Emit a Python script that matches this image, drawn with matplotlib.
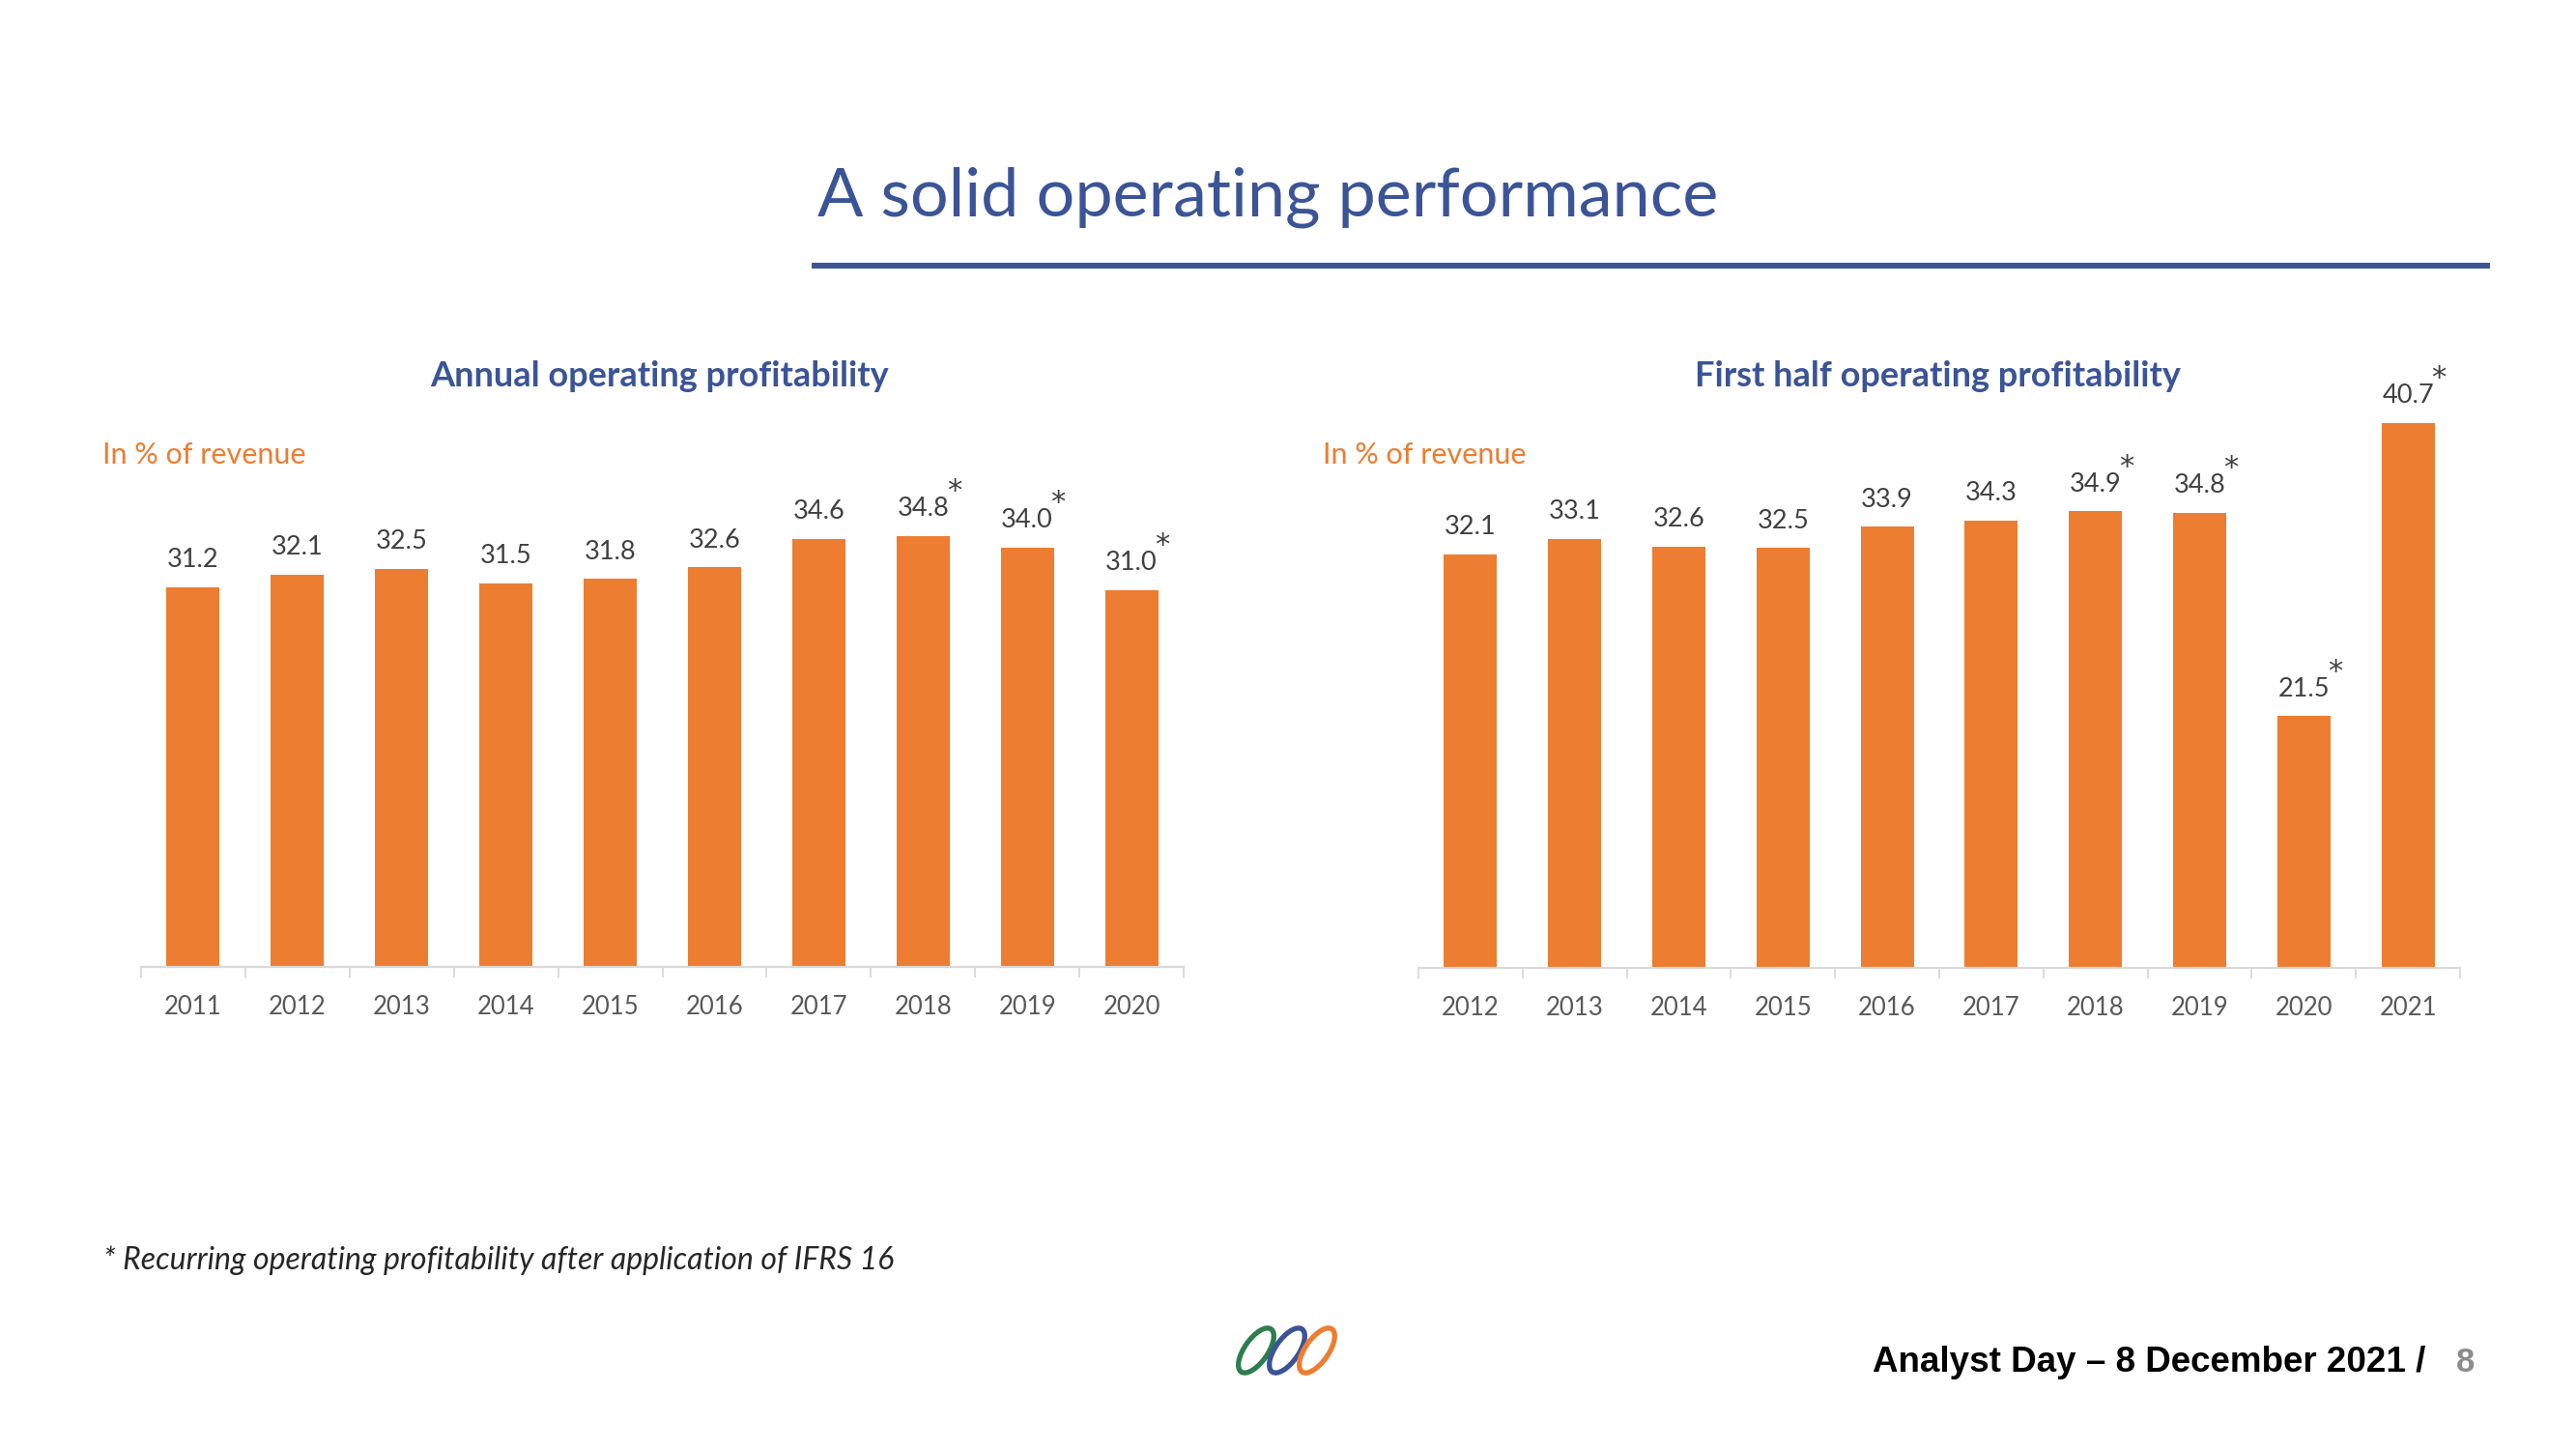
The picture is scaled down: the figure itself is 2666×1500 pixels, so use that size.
import matplotlib
matplotlib.use("Agg")
import matplotlib.pyplot as plt
from matplotlib.patches import Ellipse

# ---------------- data ----------------
annual_years = ["2011", "2012", "2013", "2014", "2015", "2016", "2017", "2018", "2019", "2020"]
annual_values = [31.2, 32.1, 32.5, 31.5, 31.8, 32.6, 34.6, 34.8, 34.0, 31.0]
annual_star = [False, False, False, False, False, False, False, True, True, True]

half_years = ["2012", "2013", "2014", "2015", "2016", "2017", "2018", "2019", "2020", "2021"]
half_values = [32.1, 33.1, 32.6, 32.5, 33.9, 34.3, 34.9, 34.8, 21.5, 40.7]
half_star = [False, False, False, False, False, False, True, True, True, True]

title = "A solid operating performance"
left_title = "Annual operating profitability"
right_title = "First half operating profitability"
unit_label = "In % of revenue"
footnote = "* Recurring operating profitability after application of IFRS 16"
footer = "Analyst Day \u2013 8 December 2021 /"
page = "8"

# ---------------- style ----------------
W, H = 2666, 1500
DPI = 100
ORANGE = "#ED7D31"
BLUE = "#3B5497"
LABEL = "#404040"
TICK = "#595959"
AXIS = "#D9D9D9"
FONT = "Lato"

fig = plt.figure(figsize=(W / DPI, H / DPI), dpi=DPI)
fig.patch.set_facecolor("white")


def fx(px):
    return px / W


def fy(py):
    return 1 - py / H


def draw_chart(rect_px, cats, vals, stars, ylim):
    x0, y_top, x1, y_bot = rect_px
    ax = fig.add_axes([fx(x0), fy(y_bot), fx(x1 - x0), (y_bot - y_top) / H])
    pos = list(range(len(cats)))
    ax.bar(pos, vals, width=0.51, color=ORANGE, zorder=2)
    ax.set_xlim(-0.5, len(cats) - 0.5)
    ax.set_ylim(*ylim)
    for s in ["top", "right", "left"]:
        ax.spines[s].set_visible(False)
    ax.spines["bottom"].set_color(AXIS)
    ax.spines["bottom"].set_linewidth(1.6)
    ax.set_yticks([])
    ax.set_xticks(pos)
    ax.set_xticklabels(cats, fontsize=18.5, color=TICK, family=FONT)
    ax.tick_params(axis="x", which="major", length=0, pad=21)
    ax.set_xticks([p - 0.5 for p in pos] + [len(cats) - 0.5], minor=True)
    ax.tick_params(axis="x", which="minor", length=8, width=1.3, color=AXIS, direction="out")
    for p, v, s in zip(pos, vals, stars):
        ax.annotate(f"{v:.1f}", xy=(p, v), xytext=(0, 28), textcoords="offset pixels",
                    ha="center", va="center", fontsize=19.5, color=LABEL, family=FONT)
        if s:
            ax.annotate("*", xy=(p, v), xytext=(32, 46), textcoords="offset pixels",
                        ha="center", va="center", fontsize=22, color=LABEL, family="DejaVu Sans")
    return ax


draw_chart((146, 400, 1225, 1001), annual_years, annual_values, annual_star, (4.5, 45.33))
draw_chart((1468, 400, 2546, 1002), half_years, half_values, half_star, (5.0, 43.08))

# ---------------- texts ----------------
fig.text(fx(846), fy(204), title, fontsize=50.5, color=BLUE, family=FONT, ha="left", va="center")
fig.add_artist(plt.Line2D([fx(843), fx(2574)], [fy(275), fy(275)], color=BLUE, lw=4.3))

fig.text(fx(683), fy(390), left_title, fontsize=26, color=BLUE, family=FONT,
         fontweight="bold", ha="center", va="center")
fig.text(fx(2005), fy(390), right_title, fontsize=26, color=BLUE, family=FONT,
         fontweight="bold", ha="center", va="center")

fig.text(fx(106), fy(471), unit_label, fontsize=22, color=ORANGE, family=FONT, ha="left", va="center")
fig.text(fx(1369), fy(471), unit_label, fontsize=22, color=ORANGE, family=FONT, ha="left", va="center")

fig.text(fx(107), fy(1305), footnote, fontsize=23, color="#262626", family=FONT,
         style="italic", ha="left", va="center")

fig.text(fx(2510), fy(1410), footer, fontsize=26.5, color="black", family="Liberation Sans",
         fontweight="bold", ha="right", va="center")
fig.text(fx(2552), fy(1410), page, fontsize=25, color="#8C8C8C", family="Liberation Sans",
         fontweight="bold", ha="center", va="center")

# ---------------- logo (three chain links) ----------------
lx0, ly0, lx1, ly1 = 1270, 1365, 1400, 1430
lax = fig.add_axes([fx(lx0), fy(ly1), fx(lx1 - lx0), (ly1 - ly0) / H])
lax.set_xlim(0, lx1 - lx0)
lax.set_ylim(0, ly1 - ly0)
lax.set_aspect("equal")
lax.axis("off")
for cx, col in [(30, "#2E7D4F"), (62, BLUE), (93, ORANGE)]:
    lax.add_patch(Ellipse((cx, 32), 54, 24, angle=55, fill=False, ec=col, lw=3.8))

fig.savefig("out.png", dpi=DPI, facecolor="white")
